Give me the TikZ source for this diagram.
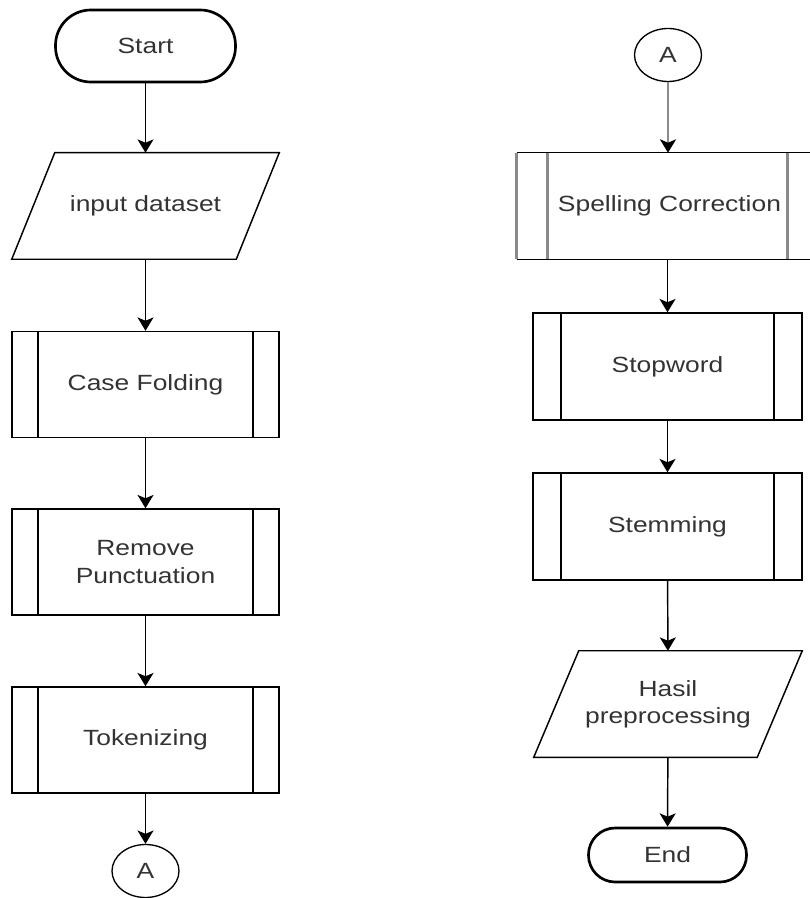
\documentclass[tikz,border=0pt]{standalone}
\usepackage{fontspec}
\newfontfamily\lbl{Liberation Sans}[FakeStretch=1.2]
\usetikzlibrary{shapes.geometric,arrows.meta}
\definecolor{txt}{HTML}{333333}
\definecolor{edgegrey}{HTML}{8A8A8A}
\begin{document}
\begin{tikzpicture}[x=0.75pt,y=-0.75pt,
  every node/.style={font=\lbl\fontsize{16.5}{20.5}\selectfont, text=txt, inner sep=0pt, align=center},
  term/.style={draw=black, line width=2pt, rectangle},
  proc/.style={draw=black, line width=1.1pt, minimum height=79.5pt,
    path picture={\draw[line width=1.1pt]
      ([xshift=#1]path picture bounding box.north west) -- ([xshift=#1]path picture bounding box.south west)
      ([xshift=-#1]path picture bounding box.north east) -- ([xshift=-#1]path picture bounding box.south east);}},
  iobox/.style={minimum height=79.5pt},
  conn/.style={draw=black, line width=1pt, ellipse, minimum width=50.25pt, minimum height=39.75pt},
  arr/.style={line width=1.1pt, -{Stealth[length=10pt,width=12pt,inset=2.5pt]}},
  arrgrey/.style={draw=edgegrey, line width=2pt, -{Stealth[length=10pt,width=12pt,inset=2.5pt,color=black]}},
  parline/.style={line width=1.1pt, line join=miter}
]
\useasboundingbox (0,0) rectangle (809,898);

% ---- left column ----
\node[term, minimum width=135pt, minimum height=54pt, rounded corners=26.5pt] (start) at (145.5,46) {Start};

\node[iobox, minimum width=200.25pt] (inp) at (145.5,206) {input dataset};
\draw[parline] ([xshift=32.25pt]inp.north west) -- (inp.north east)
  -- ([xshift=-32.25pt]inp.south east) -- (inp.south west) -- cycle;

\node[proc=19.5pt, minimum width=200.25pt] (cf) at (145.5,384.5) {Case Folding};
\node[proc=19.5pt, minimum width=200.25pt] (rp) at (145.5,562) {Remove\\Punctuation};
\node[proc=19.5pt, minimum width=200.25pt] (tk) at (145.5,740) {Tokenizing};
\node[conn] (a1) at (145.5,871) {A};

\draw[arr] (start) -- (inp);
\draw[arr] (inp) -- (cf);
\draw[arr] (cf) -- (rp);
\draw[arr] (rp) -- (tk);
\draw[arr] (tk) -- (a1);

% ---- right column ----
\node[conn] (a2) at (668,55) {A};

% wide predefined-process box; its right edge runs past the page edge
\node[minimum width=228.75pt, minimum height=79.5pt] (sc) at (669.5,206) {Spelling Correction};
\draw[line width=1.1pt] (sc.north west) -- (sc.north east) (sc.south west) -- (sc.south east);
\draw[edgegrey, line width=2pt]
  (sc.north west) -- (sc.south west)
  ([xshift=23.25pt]sc.north west) -- ([xshift=23.25pt]sc.south west)
  ([xshift=-26.25pt]sc.north east) -- ([xshift=-26.25pt]sc.south east)
  (sc.north east) -- (sc.south east);

\node[proc=21pt, minimum width=201.75pt, minimum height=80.25pt] (sw) at (667.5,366.5) {Stopword};
\node[proc=21pt, minimum width=201.75pt, minimum height=80.25pt] (st) at (667.5,526.5) {Stemming};

\node[iobox, minimum width=201pt] (hp) at (668,704) {Hasil\\preprocessing};
\draw[parline] ([xshift=33.75pt]hp.north west) -- (hp.north east)
  -- ([xshift=-33.75pt]hp.south east) -- (hp.south west) -- cycle;

\node[term, minimum width=118.5pt, minimum height=40.5pt, rounded corners=20pt] (end) at (667.5,855) {End};

\draw[arrgrey] (a2) -- (a2 |- sc.north);
\draw[arr] (sw.north |- sc.south) -- (sw);
\draw[arr] (sw) -- (st);
\draw[arr] (st) -- (hp);
\draw[arr] (hp) -- (end);
\end{tikzpicture}
\end{document}
